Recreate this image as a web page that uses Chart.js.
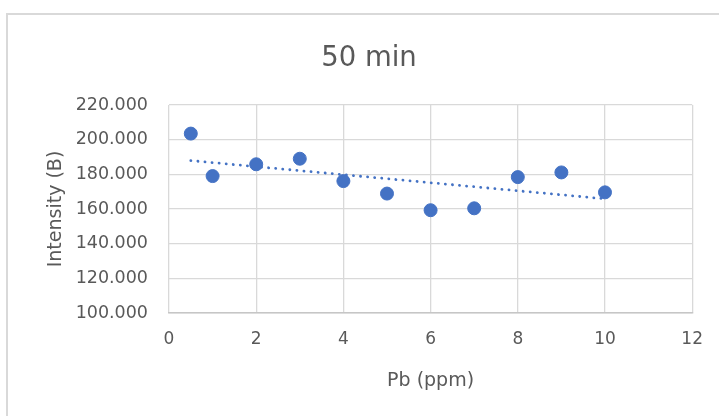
<!DOCTYPE html>
<html>
<head>
<meta charset="utf-8">
<script src="https://cdn.jsdelivr.net/npm/chart.js@4/dist/chart.umd.min.js"></script>
<style>
  html, body { margin: 0; padding: 0; background: #fff; overflow: hidden; }
  #wrap { position: relative; width: 719px; height: 416px; }
  #frame {
    position: absolute; left: 6px; top: 13px; width: 760px; height: 460px;
    border: 2px solid #d9d9d9; box-sizing: border-box;
  }
  canvas { position: absolute; left: 0; top: 0; }
</style>
</head>
<body>
<div id="wrap">
  <div id="frame"></div>
  <canvas id="scatter" width="719" height="416"></canvas>
</div>
<script>
// Pb concentration (ppm) and measured intensity after 50 min
const pb = [0.5, 1, 2, 3, 4, 5, 6, 7, 8, 9, 10];
const intensity = [203.5, 179.0, 185.8, 189.0, 176.1, 168.9, 159.3, 160.4, 178.4, 181.1, 169.6];

const xTicks = [0, 2, 4, 6, 8, 10, 12];
const yTicks = [100, 120, 140, 160, 180, 200, 220];

// least squares linear trendline over the points
function linearFit(xs, ys) {
  const n = xs.length;
  const mx = xs.reduce((a, b) => a + b, 0) / n;
  const my = ys.reduce((a, b) => a + b, 0) / n;
  let sxy = 0, sxx = 0;
  for (let i = 0; i < n; i++) {
    sxy += (xs[i] - mx) * (ys[i] - my);
    sxx += (xs[i] - mx) * (xs[i] - mx);
  }
  const slope = sxy / sxx;
  return x => my + slope * (x - mx);
}
const fit = linearFit(pb, intensity);
const xFirst = pb[0];
const xLast = pb[pb.length - 1];

const textColor = "#595959";
const gridColor = "#d9d9d9";
const font = "DejaVu Sans";

const ctx = document.getElementById("scatter");
const chart = new Chart(ctx, {
  type: "scatter",
  data: {
    datasets: [
      {
        label: "Intensity",
        data: pb.map((x, i) => ({ x: x, y: intensity[i] })),
        backgroundColor: "#4472c4",
        borderColor: "#4472c4",
        pointRadius: 6.5,
        pointHoverRadius: 6.5,
        order: 1,
      },
      {
        label: "Linear",
        data: [
          { x: xFirst, y: fit(xFirst) },
          { x: xLast, y: fit(xLast) },
        ],
        showLine: true,
        borderColor: "#4472c4",
        borderWidth: 2.8,
        borderDash: [0.1, 7],
        borderCapStyle: "round",
        pointRadius: 0,
        order: 2,
      },
    ],
  },
  options: {
    responsive: false,
    animation: false,
    layout: {
      // left/right set so the title sits centred over the frame
      padding: { left: 45, right: 26, top: 0, bottom: 0 },
    },
    plugins: {
      legend: { display: false },
      tooltip: { enabled: false },
      title: {
        display: true,
        text: "50 min",
        color: textColor,
        font: { family: font, size: 27.5, weight: "normal" },
        padding: { top: 42, bottom: 30 },
      },
    },
    scales: {
      x: {
        type: "linear",
        min: 0,
        max: 12,
        afterBuildTicks: (scale) => {
          scale.ticks = xTicks.map((v) => ({ value: v }));
        },
        afterFit: (scale) => {
          scale.height = 103;
        },
        grid: { color: gridColor, lineWidth: 1.3, drawTicks: false },
        border: { color: "#c6c6c6", width: 1.5 },
        ticks: {
          color: textColor,
          font: { family: font, size: 17 },
          padding: 16,
        },
        title: {
          display: true,
          text: "Pb (ppm)",
          color: textColor,
          font: { family: font, size: 19 },
          padding: { top: 0, bottom: 24 },
        },
      },
      y: {
        type: "linear",
        min: 100,
        max: 220,
        afterBuildTicks: (scale) => {
          scale.ticks = yTicks.map((v) => ({ value: v }));
        },
        afterFit: (scale) => {
          scale.width = 124;
        },
        grid: { color: gridColor, lineWidth: 1.3, drawTicks: false },
        border: { display: false },
        ticks: {
          color: textColor,
          font: { family: font, size: 17.5 },
          padding: 21,
          callback: (v) => v.toFixed(3),
        },
        title: {
          display: true,
          text: "Intensity (B)",
          color: textColor,
          font: { family: font, size: 19 },
          padding: { top: 0, bottom: 0 },
        },
      },
    },
  },
});
</script>
</body>
</html>
